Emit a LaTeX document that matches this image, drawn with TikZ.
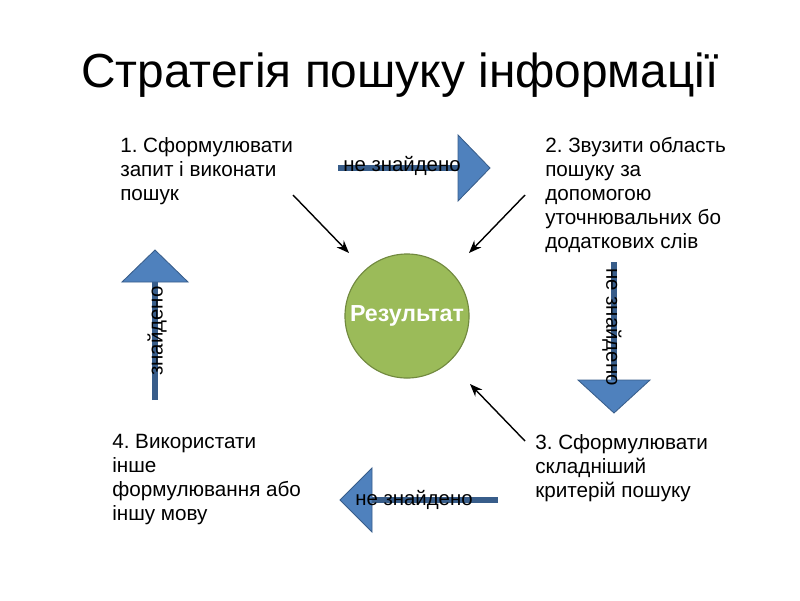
\documentclass[tikz,border=0pt]{standalone}
\usepackage{fontspec}
\setmainfont{Liberation Sans}
\usetikzlibrary{arrows.meta}
\frenchspacing
\definecolor{blu}{HTML}{4F81BD}
\definecolor{bluscuro}{HTML}{385D8A}
\definecolor{verde}{HTML}{9BBB59}
\definecolor{verdescuro}{HTML}{71893F}
\tikzset{
  passo/.style={anchor=north west, inner sep=0pt, align=left, font=\fontsize{14.7}{17}\selectfont},
  etichetta/.style={inner sep=0pt, font=\fontsize{14.5}{17}\selectfont},
  freccia/.style={-{Stealth[length=9pt,width=7pt]}, line width=1pt},
  asta/.style={draw=bluscuro, line width=4pt},
  punta/.style={fill=blu, draw=bluscuro, line width=0.6pt}
}
\begin{document}
\begin{tikzpicture}[x=0.025cm, y=-0.025cm]
    \useasboundingbox (0,0) rectangle (800,600);
    % Titolo
    \node (titolo) at (400,75) {\fontsize{34}{40}\selectfont Стратегія пошуку інформації};
    % Passi
    \node[passo] (p1) at (120,137) {1. Сформулювати\\запит і виконати\\пошук};
    \node[passo] (p2) at (545,137) {2. Звузити область\\пошуку за\\допомогою\\уточнювальних бо\\додаткових слів};
    \node[passo] (p3) at (535,434) {3. Сформулювати\\складніший\\критерій пошуку};
    \node[passo] (p4) at (112,434) {4. Використати\\інше\\формулювання або\\іншу мову};
    % Risultato
    \node[circle, fill=verde, draw=verdescuro, line width=0.8pt, minimum size=3.1cm, inner sep=0pt,
          text=white, font=\bfseries\fontsize{16.5}{20}\selectfont] (ris) at (407,316) {Результат};
    % Frecce nere
    \coordinate (a1) at (293,195); \coordinate (b1) at (349,253);
    \coordinate (a2) at (525,195); \coordinate (b2) at (469,253);
    \coordinate (a3) at (525,441); \coordinate (b3) at (470,384);
    \draw[freccia] (a1) -- (b1);
    \draw[freccia] (a2) -- (b2);
    \draw[freccia] (a3) -- (b3);
    % Frecce blu: 1 -> 2
    \draw[asta] (338,168) -- (459,168);
    \draw[punta] (458,135) -- (490,168) -- (458,201) -- cycle;
    \node[etichetta] (n12) at (402,166) {не знайдено};
    % 2 -> 3
    \draw[asta] (614,262) -- (614,381);
    \draw[punta] (578,380) -- (650,380) -- (614,413) -- cycle;
    \node[etichetta, rotate=-90] (n23) at (612,327) {не знайдено};
    % 3 -> 4
    \draw[asta] (498,500) -- (371,500);
    \draw[punta] (372,468) -- (340,500) -- (372,532) -- cycle;
    \node[etichetta] (n34) at (414,500) {не знайдено};
    % 4 -> 1
    \draw[asta] (155,400) -- (155,281);
    \draw[punta] (122,282) -- (155,250) -- (188,282) -- cycle;
    \node[etichetta, rotate=90] (n41) at (157,331) {знайдено};
\end{tikzpicture}
\end{document}
